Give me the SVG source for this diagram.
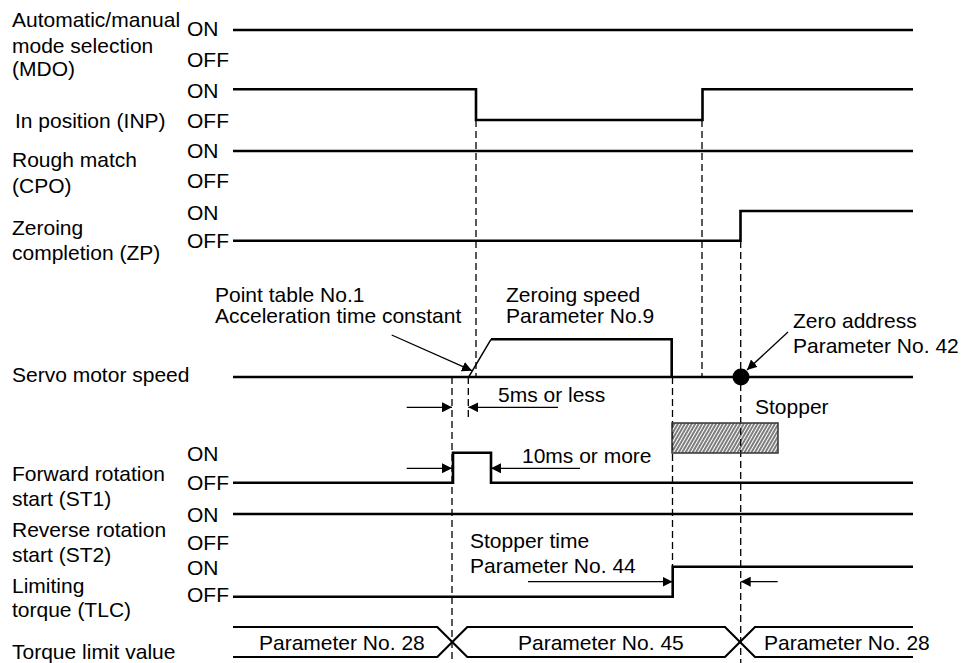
<svg xmlns="http://www.w3.org/2000/svg" width="962" height="663" viewBox="0 0 962 663">
<defs>
<style>
text{font-family:"Liberation Sans",Arial,sans-serif;font-size:21px;fill:#000}
.sig{fill:none;stroke:#000;stroke-width:2.6;stroke-linejoin:miter}
.bus{fill:none;stroke:#000;stroke-width:2.2}
.dash{fill:none;stroke:#000;stroke-width:1.3;stroke-dasharray:7 4}
.thin{fill:none;stroke:#000;stroke-width:1.5}
.arr{fill:none;stroke:#000;stroke-width:1.3;marker-end:url(#ah)}
</style>
<marker id="ah" markerUnits="userSpaceOnUse" markerWidth="10" markerHeight="10" refX="10" refY="5" orient="auto" viewBox="0 0 10 10"><path d="M0,0 L10,5 L0,10 Z" fill="#000"/></marker>
<pattern id="hatch" patternUnits="userSpaceOnUse" width="3" height="10" patternTransform="rotate(30)"><line x1="1" y1="0" x2="1" y2="10" stroke="#111" stroke-width="1.1"/></pattern>
</defs>
<rect width="962" height="663" fill="#fff"/>

<g id="labels">
<text x="12" y="27">Automatic/manual</text>
<text x="12" y="53">mode selection</text>
<text x="12" y="76">(MDO)</text>
<text x="15" y="128">In position (INP)</text>
<text x="12" y="167">Rough match</text>
<text x="12" y="193">(CPO)</text>
<text x="12" y="235">Zeroing</text>
<text x="12" y="260">completion (ZP)</text>
<text x="12" y="382">Servo motor speed</text>
<text x="12" y="481">Forward rotation</text>
<text x="12" y="506">start (ST1)</text>
<text x="12" y="537">Reverse rotation</text>
<text x="12" y="562">start (ST2)</text>
<text x="12" y="593">Limiting</text>
<text x="12" y="617">torque (TLC)</text>
<text x="12" y="659">Torque limit value</text>
</g>

<g id="levels">
<text x="187" y="36">ON</text>
<text x="187" y="67">OFF</text>
<text x="187" y="98">ON</text>
<text x="187" y="128">OFF</text>
<text x="187" y="158">ON</text>
<text x="187" y="188">OFF</text>
<text x="187" y="220">ON</text>
<text x="187" y="248">OFF</text>
<text x="187" y="461">ON</text>
<text x="187" y="490">OFF</text>
<text x="187" y="522">ON</text>
<text x="187" y="550">OFF</text>
<text x="187" y="575">ON</text>
<text x="187" y="602">OFF</text>
</g>

<g id="connectors">
<path class="dash" d="M476,120 V377"/>
<path class="dash" d="M702,120 V377"/>
<path class="dash" d="M452,377 V663"/>
<path class="dash" d="M468.3,377 V418"/>
<path class="dash" d="M672.5,377 V567"/>
<path class="dash" d="M740.7,241 V663"/>
</g>

<g id="sig-mdo"><path class="sig" d="M233,30 H913"/></g>
<g id="sig-inp"><path class="sig" d="M233,89.3 H476 V120 H702.5 V89.3 H913"/></g>
<g id="sig-cpo"><path class="sig" d="M233,151 H913"/></g>
<g id="sig-zp"><path class="sig" d="M233,240.7 H740.5 V211 H913"/></g>

<g id="sig-speed">
<path class="sig" d="M233,377 H913"/>
<path class="sig" d="M491,339.3 H671.7 V377"/>
<path class="thin" d="M468.3,377.7 L491,339.3"/>
<circle cx="741" cy="377" r="8.5" fill="#000"/>
<text x="215" y="302">Point table No.1</text>
<text x="215" y="323">Acceleration time constant</text>
<path class="arr" d="M391.7,335 L472,370.7"/>
<text x="506" y="302">Zeroing speed</text>
<text x="506" y="323">Parameter No.9</text>
<text x="793" y="328">Zero address</text>
<text x="793" y="353">Parameter No. 42</text>
<path class="arr" d="M788,332 L747,370"/>
<path class="arr" d="M406.7,407.3 H452"/>
<path class="arr" d="M558,407.3 H468.3"/>
<text x="498" y="402">5ms or less</text>
</g>

<g id="stopper">
<rect x="672" y="423" width="106" height="30" fill="url(#hatch)" stroke="#333" stroke-width="1.5"/>
<text x="755" y="414">Stopper</text>
</g>

<g id="sig-st1">
<path class="sig" d="M233,482.7 H453 V452.7 H491 V482.7 H913"/>
<path class="arr" d="M406.7,468.3 H452"/>
<path class="arr" d="M580,468.3 H491"/>
<text x="522" y="463">10ms or more</text>
</g>

<g id="sig-st2"><path class="sig" d="M233,514 H913"/></g>

<g id="sig-tlc">
<path class="sig" d="M233,596.7 H672.7 V566.7 H913"/>
<path class="arr" d="M528,581.7 H672.5"/>
<path class="arr" d="M777.7,581.7 H740.7"/>
<text x="470" y="548">Stopper time</text>
<text x="470" y="573">Parameter No. 44</text>
</g>

<g id="sig-torque">
<path class="bus" d="M233,627 H437.3 L467.3,657 H725 L755,627 H913"/>
<path class="bus" d="M233,657 H437.3 L467.3,627 H725 L755,657 H913"/>
<text x="259" y="650">Parameter No. 28</text>
<text x="518" y="650">Parameter No. 45</text>
<text x="764" y="650">Parameter No. 28</text>
</g>
</svg>
